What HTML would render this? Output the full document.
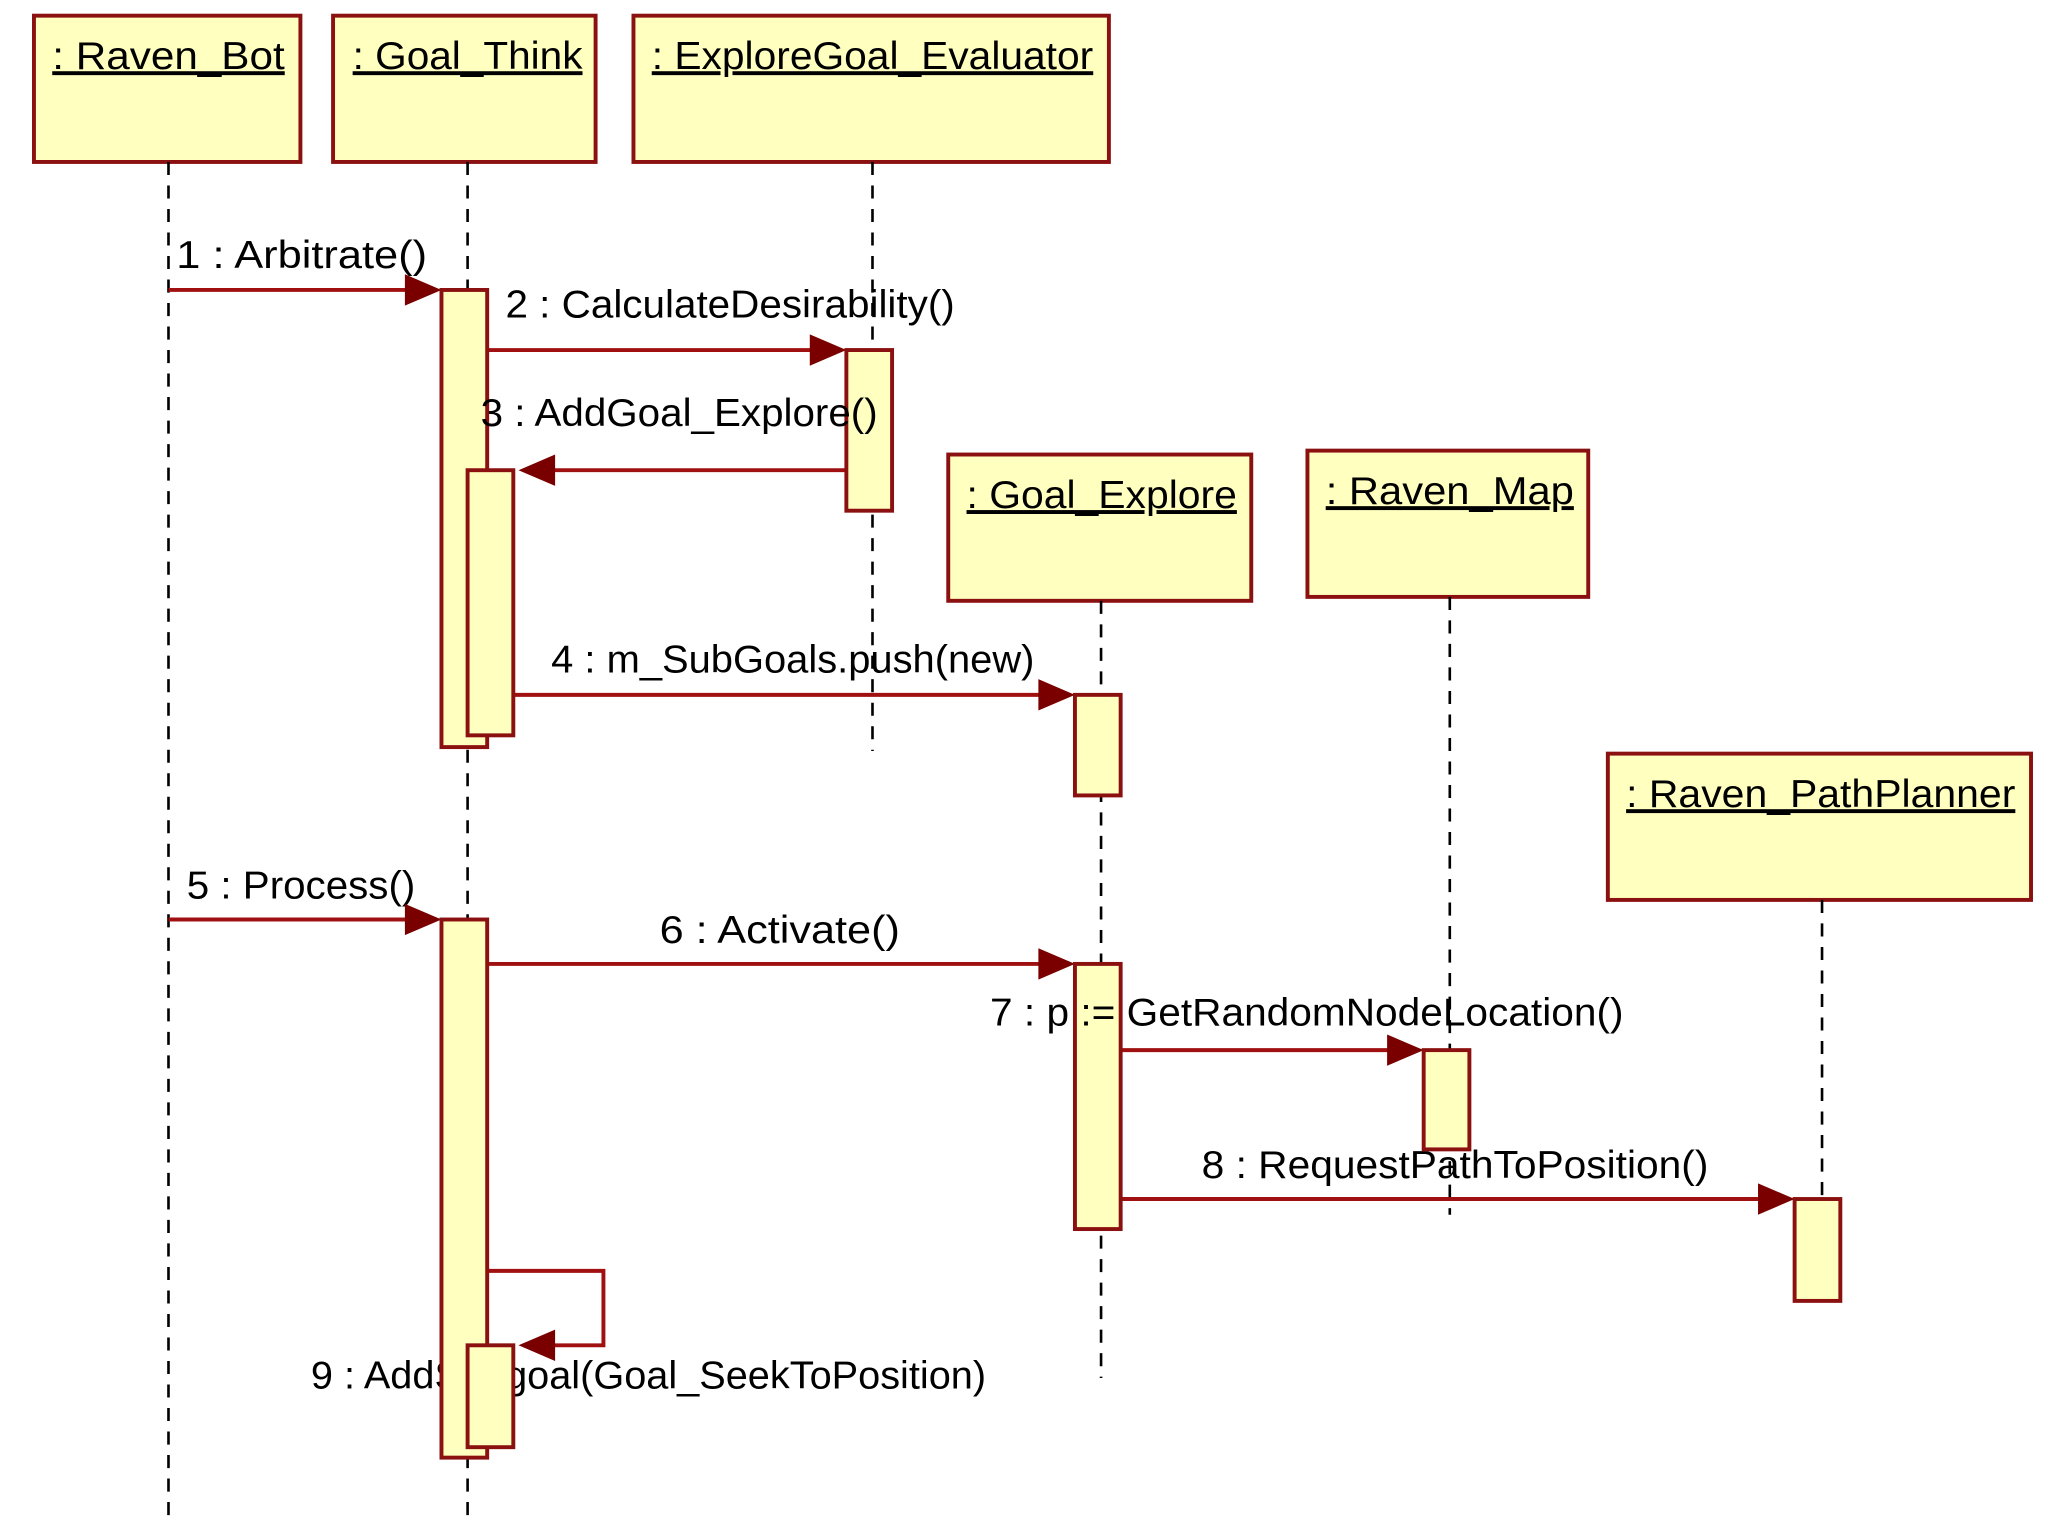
<!DOCTYPE html>
<html><head><meta charset="utf-8"><style>html,body{margin:0;padding:0;background:#fff;}svg{display:block}</style></head>
<body>
<svg width="2048" height="1536" viewBox="0 0 1568 1176" preserveAspectRatio="none" xmlns="http://www.w3.org/2000/svg" font-family="Liberation Sans, sans-serif">
<g fill="#ffffc0" stroke="#8b1010" stroke-width="3">
<rect x="26" y="12" width="204" height="112"/>
<rect x="255" y="12" width="201" height="112"/>
<rect x="485" y="12" width="364" height="112"/>
<rect x="726" y="348" width="232" height="112"/>
<rect x="1001" y="345" width="215" height="112"/>
<rect x="1231" y="577" width="324" height="112"/>
</g>
<g font-size="30" fill="#000" text-decoration="underline">
<text x="40" y="53" textLength="178" lengthAdjust="spacingAndGlyphs">: Raven_Bot</text>
<text x="270" y="53" textLength="176" lengthAdjust="spacingAndGlyphs">: Goal_Think</text>
<text x="499" y="53" textLength="338" lengthAdjust="spacingAndGlyphs">: ExploreGoal_Evaluator</text>
<text x="740" y="389" textLength="207" lengthAdjust="spacingAndGlyphs">: Goal_Explore</text>
<text x="1015" y="386" textLength="190" lengthAdjust="spacingAndGlyphs">: Raven_Map</text>
<text x="1245" y="618" textLength="298" lengthAdjust="spacingAndGlyphs">: Raven_PathPlanner</text>
</g>
<g font-size="30" fill="#000">
<text x="135" y="205" textLength="192" lengthAdjust="spacingAndGlyphs">1 : Arbitrate()</text>
<text x="387" y="243" textLength="344" lengthAdjust="spacingAndGlyphs">2 : CalculateDesirability()</text>
<text x="422" y="515" textLength="370" lengthAdjust="spacingAndGlyphs">4 : m_SubGoals.push(new)</text>
<text x="143" y="688" textLength="175" lengthAdjust="spacingAndGlyphs">5 : Process()</text>
<text x="505" y="722" textLength="184" lengthAdjust="spacingAndGlyphs">6 : Activate()</text>
<text x="920" y="902" textLength="388" lengthAdjust="spacingAndGlyphs">8 : RequestPathToPosition()</text>
<text x="238" y="1063" textLength="517" lengthAdjust="spacingAndGlyphs">9 : AddSubgoal(Goal_SeekToPosition)</text>
</g>
<g stroke="#000" stroke-width="2" stroke-dasharray="10,8">
<line x1="129" y1="124" x2="129" y2="1168"/>
<line x1="358" y1="124" x2="358" y2="1168"/>
<line x1="668" y1="124" x2="668" y2="575"/>
<line x1="843" y1="460" x2="843" y2="1055"/>
<line x1="1110" y1="457" x2="1110" y2="930"/>
<line x1="1395" y1="689" x2="1395" y2="918"/>
</g>
<g stroke="#a01010" stroke-width="3" fill="none">
<line x1="129" y1="222" x2="320" y2="222"/>
<line x1="373" y1="268" x2="630" y2="268"/>
<line x1="648" y1="360" x2="415" y2="360"/>
<line x1="393" y1="532" x2="805" y2="532"/>
<line x1="129" y1="704" x2="320" y2="704"/>
<line x1="373" y1="738" x2="805" y2="738"/>
<line x1="858" y1="804" x2="1072" y2="804"/>
<line x1="858" y1="918" x2="1356" y2="918"/>
<polyline points="373,973 462,973 462,1030 415,1030"/>
</g>
<g fill="#7a0000">
<polygon points="310,210 338,222 310,234"/>
<polygon points="620,256 648,268 620,280"/>
<polygon points="425,348 397,360 425,372"/>
<polygon points="795,520 823,532 795,544"/>
<polygon points="310,692 338,704 310,716"/>
<polygon points="795,726 823,738 795,750"/>
<polygon points="1062,792 1090,804 1062,816"/>
<polygon points="1346,906 1374,918 1346,930"/>
<polygon points="425,1018 397,1030 425,1042"/>
</g>
<g fill="#ffffc0" stroke="#8b1010" stroke-width="3">
<rect x="338" y="222" width="35" height="350"/>
<rect x="358" y="360" width="35" height="203"/>
<rect x="648" y="268" width="35" height="123"/>
<rect x="823" y="532" width="35" height="77"/>
<rect x="338" y="704" width="35" height="412"/>
<rect x="358" y="1030" width="35" height="78"/>
<rect x="823" y="738" width="35" height="203"/>
<rect x="1090" y="804" width="35" height="76"/>
<rect x="1374" y="918" width="35" height="78"/>
</g>
<text x="368" y="326" font-size="30" fill="#000" textLength="304" lengthAdjust="spacingAndGlyphs">3 : AddGoal_Explore()</text>
<text x="758" y="785" font-size="30" fill="#000" textLength="485" lengthAdjust="spacingAndGlyphs">7 : p := GetRandomNodeLocation()</text>
</svg>
</body></html>
